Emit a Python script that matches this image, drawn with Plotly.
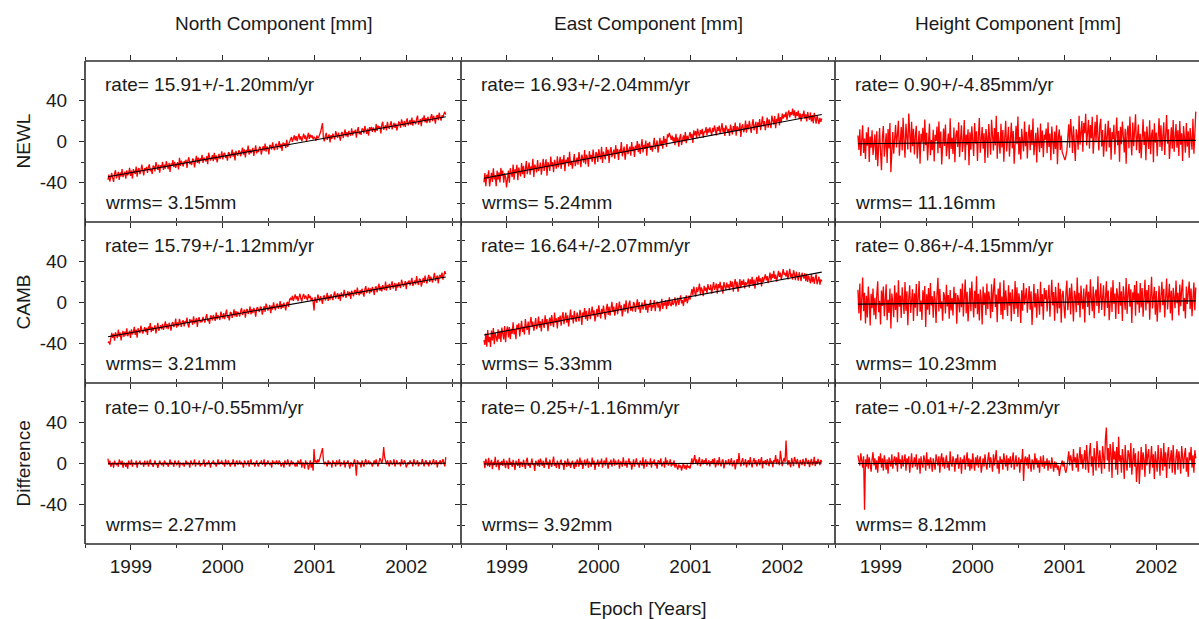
import numpy as np
import plotly.graph_objects as go

W, H = 1199, 619

stations = ["NEWL", "CAMB", "Difference"]
components = ["North Component [mm]", "East Component [mm]", "Height Component [mm]"]
year_ticks = [1999, 2000, 2001, 2002]
mm_ticks = [-40, 0, 40]

# span of the sampled solutions (decimal years)
epoch_first = 1998.75
epoch_last = 2002.43

rates = [[15.91, 16.93, 0.90], [15.79, 16.64, 0.86], [0.10, 0.25, -0.01]]
rate_sigmas = [[1.20, 2.04, 4.85], [1.12, 2.07, 4.15], [0.55, 1.16, 2.23]]
wrms = [[3.15, 5.24, 11.16], [3.21, 5.33, 10.23], [2.27, 3.92, 8.12]]
# epoch at which each fitted line passes through zero
fit_zero_epoch = [[2000.91, 2000.87, 2001.19],
                  [2000.86, 2000.65, 2000.60],
                  [2000.60, 2000.60, 2000.60]]

# residuals about the fitted line [mm], one value per solution
resid_newl_north = [
    -3, 2, -5, 0, 3, -2, -6, 2, 5, -3, 0, 3, -5, 2, -2, 5, -3, 0, 2, -5,
    3, -2, 0, 5, -3, 2, -6, 3, 0, -2, 5, -5, 2, 3, -3, 0, 6, -2, -5, 2,
    0, 3, -3, 2, 5, -2, 0, -5, 3, 2, -3, 6, 0, -2, 3, -5, 2, 0, 5, -3,
    2, -2, 5, 0, -3, 3, -6, 2, 0, 5, -2, 3, -3, 0, 2, -5, 6, -2, 3, 0,
    -3, 2, 0, 3, -5, 2, 5, -2, 0, -3, 3, 2, -6, 0, 5, -2, 3, -3, 2, 0,
    5, -3, 2, 0, -2, 3, -5, 6, 2, -2, 0, 3, -3, 5, -2, 2, -5, 0, 3, -2,
    0, 5, -3, 2, 3, -2, 0, -5, 3, 2, -3, 0, 5, -2, 2, -6, 3, 0, -2, 3,
    2, -3, 0, 5, -2, 3, -5, 2, 0, 6, -3, 2, -2, 0, 3, -5, 2, 5, -3, 0,
    -2, 3, 2, -5, 0, 3, -2, 5, -3, 2, 0, -6, 3, 2, -2, 5, 0, -3, 2, 3,
    -3, 0, 5, -2, 2, -5, 3, 0, 2, -3, 5, -2, 0, 3, 4, 7, 2, 5, 8, 3,
    7, 2, 5, 9, 3, 6, 1, 5, 8, 3, 6, 0, 5, 8, 2, 6, 3, 5, 1, 3,
    2, -1, 4, 1, 2, 4, 7, 11, 15, 0, -3, 2, 5, -2, 0, 3, -5, 2, -2, 3,
    0, -3, 5, 2, -2, 3, 0, -5, 2, 3, -3, 0, 5, -2, 2, -3, 3, 0, -2, 5,
    -2, 2, 0, 3, -5, 2, 5, -2, 0, -3, 3, 2, -2, 5, 0, -3, 2, -5, 3, 0,
    3, -2, 2, 0, -3, 5, -2, 3, 0, 2, -5, 3, 6, -2, 0, 2, -3, 5, 0, -2,
    2, 5, -3, 0, 3, -2, 2, -5, 0, 3, 2, -3, 5, 0, -2, 3, -3, 2, 5, -2,
    0, 3, -2, 5, -3, 2, 0, -2, 3, 6, -3, 0, 2, -5, 3, 0, 5, -2, 2, -3,
    3, 0, -3, 2, 5, -2, 3, 0, -5, 2, 3, -2, 5, 0, -3, 2, 0, 3, 5, 2,
]
resid_newl_east = [
    -4, 5, -8, 3, -1, 7, -9, 0, 4, -5, 8, -3, 1, -10, 5, -4, 3, -7, 7, -1,
    4, -8, 1, -3, -13, -5, 3, -9, 5, 0, -4, 8, -7, 3, -1, 7, -8, 4, 0, -5,
    8, -3, 5, -7, 1, 9, -4, 0, 7, -5, 3, -1, 10, -8, 4, 1, -4, 8, -3, 0,
    5, -7, 3, 8, -4, 0, 7, -9, 4, 1, -5, 9, -1, 3, -7, 5, 0, -4, 8, -3,
    1, 7, -5, 4, -1, 8, -8, 3, 0, 5, -4, 10, -3, 1, -7, 4, 7, -5, 0, 3,
    -4, 8, 1, -7, 5, 0, -3, 9, -5, 4, 1, -8, 7, -1, 3, -4, 8, 0, -7, 5,
    3, -5, 7, 1, -3, 9, -7, 4, 0, -4, 8, -1, 5, -8, 3, 7, -3, 0, 4, -5,
    8, -1, 4, -7, 3, 0, 10, -4, 1, 5, -8, 3, 7, -3, 0, 4, -5, 8, -1, 3,
    -7, 4, 0, 8, -3, 5, -5, 1, 9, -4, 3, -1, 7, -8, 4, 0, 5, -3, 1, -5,
    4, 8, -3, 0, 5, -7, 3, 7, -1, 4, -4, 8, 1, 5, -3, 9, 6, 10, 7, 3,
    7, 1, 5, -3, 8, 0, 4, -5, 3, 7, -4, 1, 5, -1, 8, -3, 4, 0, 3, 7,
    1, 5, -4, 8, 3, 7, 0, 9, 4, 1, 7, 3, 8, -1, 5, 4, 9, 1, 7, 3,
    8, 4, 0, 7, 3, 9, 5, -1, 7, 3, 8, 0, 4, 10, 1, 5, -3, 7, 4, 0,
    3, -4, 7, 1, -3, 5, 0, 8, -5, 4, 1, -1, 7, -7, 3, 5, -3, 0, 8, -4,
    4, -1, 7, 0, -5, 3, 8, -3, 1, 5, -7, 4, 0, 7, -4, 3, 9, -1, 4, -5,
    1, 7, -3, 5, 0, -4, 8, 3, -1, 7, -5, 4, 1, 9, -3, 5, 0, 8, 3, 7,
    4, 9, 1, 7, 10, 3, 8, 5, 11, 4, 9, 1, 7, 3, 8, 0, 5, -3, 4, 1,
    7, -1, 3, -4, 5, 0, -3, 4, -5, 1, -7, 3, -4, -8, 0, -5, -9, -3, -7, -4,
]
resid_newl_height = [
    8, -6, 14, -12, 3, 18, -9, 5, -15, 11, -2, 16, -18, 7, -4, 13, -11, 2, 9, -16,
    12, -22, 4, 15, -8, -26, 6, 17, -13, 1, 10, -19, 14, -5, 20, -28, 3, 11, -10, 6,
    18, -4, 9, 22, -12, 5, 16, -7, 25, 2, -14, 19, 8, -6, 29, 12, -9, 21, -3, 14,
    -11, 7, 17, -15, 4, 12, -20, 9, 1, 15, -8, 23, -2, 10, -17, 6, 19, -12, 3, -7,
    13, -18, 8, 2, 16, -10, 21, -5, 11, -21, 6, 14, -3, 18, -13, 0, 9, -16, 24, -6,
    5, -11, 15, -19, 7, 12, -4, 20, -14, 3, 17, -9, 1, 22, -17, 8, -2, 13, -22, 10,
    -7, 16, 4, -13, 19, -1, 11, -18, 6, 24, -10, 2, 15, -6, 9, -20, 13, 5, -15, 18,
    0, -12, 22, 7, -8, 14, -3, 26, -16, 10, 2, -11, 18, -5, 12, -19, 4, 21, -9, 7,
    15, -14, 3, 19, -6, 11, -21, 8, 16, -2, 25, -12, 5, -17, 13, 1, -9, 20, -4, 10,
    -16, 6, 17, -8, 12, -3, 23, -13, 4, 9, -20, 14, 0, -10, 18, -6, 11, -15, 7, 2,
    13, -11, 19, -5, 8, -18, 15, 3, -12, 10, -7, 16, -22, 5, 12, -8, 6, -10, -13, -16,
    -18, -14, -9, 4, 17, -6, 22, 9, -11, 15, 1, -19, 12, 6, -8, 25, -3, 14, 20, -10,
    18, 8, 27, -4, 13, 21, -7, 16, 3, 24, -12, 10, 19, -1, 26, 5, -9, 15, 22, -5,
    11, -15, 7, 17, -10, 4, 20, -6, 13, -18, 9, 2, 16, -13, 6, 23, -4, 10, -20, 14,
    -3, 19, 5, -11, 12, -22, 8, 15, -7, 24, 1, -14, 18, -5, 10, 26, -9, 3, 16, -12,
    7, -17, 13, 21, -4, 9, -19, 14, 2, -8, 20, -13, 6, 11, -21, 17, -2, 8, -15, 12,
    22, -6, 15, -10, 4, 18, -14, 9, 25, -3, 11, -18, 6, 13, -8, 20, -11, 3, 16, -7,
    10, -15, 19, -4, 7, -20, 14, 2, -12, 17, -6, 9, -17, 12, 4, -9, 21, -13, 6, 28,
]
resid_camb_north = [
    -6, -5, -8, 0, 3, -2, 2, -5, 3, 0, -3, 5, -2, 2, -6, 0, 3, -3, 2, -2,
    5, -3, 0, 2, -5, 3, -2, 0, 5, -3, 2, -6, 3, 0, -2, 5, 2, -3, 0, 3,
    -2, 2, -5, 3, 0, 6, -3, 2, -2, 0, 3, -5, 2, 5, -3, 0, 2, -2, 3, -3,
    0, 5, -2, 2, -3, 3, 0, -5, 2, 3, -2, 0, 6, -3, 2, -2, 5, 0, -3, 2,
    3, -3, 2, 0, 5, -2, -5, 3, 0, 2, -3, 5, -2, 0, 3, -6, 2, 3, -2, 0,
    -2, 3, 0, -3, 2, 5, -2, 0, -5, 3, 2, -2, 3, 0, -3, 5, -2, 2, 0, -3,
    5, 0, -2, 3, -3, 2, 6, -2, 0, -5, 3, 2, -3, 0, 5, -2, 3, -3, 2, 0,
    -3, 2, 5, -2, 0, 3, -5, 2, 3, -2, 0, 5, -3, 2, -2, 3, 0, -6, 2, 3,
    0, -2, 3, 2, -5, 0, 3, -3, 5, 2, -2, 0, 3, -5, 2, -2, 5, 0, -3, 2,
    3, -2, 0, 5, -3, 2, -2, 3, 0, -5, 2, 3, -2, 5, 6, 4, 8, 3, 6, 9,
    4, 7, 2, 6, 9, 4, 1, 6, 8, 3, 6, 4, 1, 7, 3, 5, 0, 3, -1, -10,
    3, 0, -3, 5, 2, -2, 3, 0, -5, 2, 3, -2, 0, 5, -3, 2, -2, 3, 0, -3,
    2, 5, -2, 0, 3, -3, 2, -5, 3, 0, -2, 5, 2, -3, 0, 3, -2, 2, -5, 3,
    0, -3, 3, 2, -2, 5, 0, -3, 2, -2, 3, 0, -5, 2, 5, -2, 0, 3, -3, 2,
    -2, 3, 0, -5, 2, 3, -3, 0, 5, -2, 2, -3, 3, 0, -2, 6, -3, 2, 0, 3,
    -3, 2, 5, -2, 0, 3, -5, 2, -2, 3, 0, -3, 5, 2, -2, 0, 3, -5, 2, 0,
    3, -2, 2, 5, -3, 0, 2, -2, 6, 0, -3, 3, 2, -5, 0, 3, -2, 5, 0, -3,
    2, 5, -2, 3, 0, -3, 2, 6, -2, 0, 3, -5, 2, 3, 0, 5, -2, 2, 6, 3,
]
resid_camb_east = [
    -5, -10, 1, -12, 4, -8, -3, -13, 3, -7, 5, -11, 0, -4, -9, 3, -7, 1, -10, 4,
    -3, -8, 5, -11, 0, 4, -7, 3, -9, 1, -4, 7, -5, 0, -10, 4, -1, 5, -8, 3,
    7, -4, 1, -7, 8, 0, -3, 5, -8, 3, 9, -1, 4, -5, 1, 7, -4, 0, 8, -3,
    3, -7, 5, 0, -4, 8, -1, 4, -8, 1, 5, -3, 7, 0, -5, 9, -1, 3, -7, 4,
    -1, 5, -5, 3, 8, -4, 0, 7, -3, 4, -7, 1, 9, -1, 3, -5, 7, 0, -4, 5,
    1, -4, 7, 3, -8, 4, 0, 8, -3, 5, -5, 1, 7, -4, 3, 8, -1, 4, -7, 0,
    5, -3, 8, 1, -5, 4, -1, 7, 0, -7, 3, 8, -3, 5, -4, 1, 9, -1, 4, -5,
    0, 7, -4, 3, 8, -1, 4, -7, 1, 5, -3, 8, 0, -5, 4, 7, -3, 1, -4, 5,
    3, -5, 1, 7, -3, 4, -7, 0, 3, -4, -1, 5, -5, 1, -8, 0, -3, 4, -7, -1,
    -4, 3, -8, -1, 1, -5, 0, -9, -3, 3, -7, -1, -4, 1, -8, 0, -5, 3, -4, -6,
    0, -5, -3, 2, -7, -4, 1, -6, -1, 3, -5, -2, -8, 0, -4, 2, -6, -2, 1, -3,
    2, 7, 1, 9, 4, -1, 8, 3, 6, 11, 0, 7, 4, -2, 8, 3, 6, 0, 9, 4,
    3, 8, -1, 6, 10, 2, 5, 8, -2, 7, 3, 9, 1, 5, -3, 8, 4, 0, 7, 2,
    5, -1, 8, 2, 7, -3, 4, 9, 0, 6, -4, 5, 8, -1, 6, 2, 7, -2, 4, 1,
    3, 7, -2, 6, 1, 8, -1, 5, -4, 4, 7, -1, 8, 2, 5, -3, 6, 1, 4, 8,
    2, 6, -1, 5, 9, 1, 7, 3, 10, 2, 6, -1, 5, 9, 3, 7, 0, 6, 10, 4,
    6, 2, 8, -1, 5, 9, 1, 4, -2, 7, 3, -3, 5, 1, -4, 4, 0, -5, 3, -1,
    -3, 2, -6, 1, -7, -1, -4, -9, 0, -8, -3, -10, -5, -1, -11, -6, -4, -12, -7, -9,
]
resid_camb_height = [
    14, -9, 20, -16, 5, 26, -7, 11, -19, 8, -13, 17, 2, -21, 10, -4, 15, -11, 6, -15,
    9, 22, -8, 3, -20, 13, -2, 17, -12, 7, 19, -16, 4, -9, 15, -24, 10, 1, -13, 18,
    -6, 11, -18, 23, -3, 8, -14, 16, 2, -10, 21, -7, 12, -21, 5, 18, -9, 0, 14, -17,
    10, -4, 19, -12, 6, 22, -8, 3, -16, 13, -1, 17, -23, 9, -6, 15, -11, 20, -2, 7,
    -14, 12, 4, -19, 9, 25, -8, 14, -5, 2, -17, 11, 7, -10, 18, -3, 8, -15, 13, -7,
    5, -12, 16, -1, 10, -20, 8, 3, -9, 14, -4, 19, -13, 6, 23, -10, 11, -18, 1, 15,
    -8, 21, 2, -14, 12, -5, 26, -11, 9, -17, 13, 4, -21, 16, -2, 10, -12, 19, -6, 11,
    3, -15, 18, -9, 12, 24, -4, 8, -19, 14, -1, 20, -12, 6, -16, 22, -7, 12, 0, -13,
    17, -3, 10, -18, 13, 4, -11, 21, -6, 15, -14, 9, 2, -20, 12, -8, 19, -2, 7, 14,
    -10, 6, 16, -7, 11, -22, 4, 18, -5, 9, -15, 13, 1, -12, 20, -4, 8, -17, 14, 3,
    12, -9, 5, 17, -14, 8, 22, -3, 10, -18, 15, 0, -11, 19, -6, 13, -20, 7, 11, -5,
    -16, 9, 21, -8, 4, 14, -12, 18, 2, -19, 11, 6, -10, 24, -3, 9, -15, 16, 1, -7,
    13, -20, 8, 17, -5, 10, -13, 22, 3, -9, 15, -16, 7, 12, -4, 25, -11, 5, 18, -8,
    2, 16, -14, 9, 20, -6, 11, -18, 4, 14, -10, 21, -2, 8, -17, 13, 6, -12, 19, -4,
    10, -19, 15, 3, -8, 23, -12, 7, 17, -5, 12, -21, 9, 1, 16, -14, 20, -3, 8, -11,
    18, -6, 13, -15, 5, 21, -9, 11, -2, 16, -18, 8, 24, -7, 3, 14, -13, 10, -20, 6,
    15, -11, 9, 19, -4, 12, -16, 6, 22, -8, 2, 17, -12, 10, -19, 13, 4, -7, 20, -2,
    8, -14, 16, -5, 11, 21, -10, 3, -17, 14, -3, 9, 19, -8, 12, -15, 6, 18, -9, 13,
]
resid_diff_north = [
    5, -1, 3, -3, 0, 1, -4, 3, 0, -1, 1, -3, 4, 0, -1, 3, -4, 1, 0, -3,
    1, -5, 3, 0, -1, 4, -3, 1, 0, -1, 3, -4, 1, 0, 3, -1, 0, 1, -3, 3,
    -1, 0, 3, -3, 1, 4, -1, 0, -3, 1, 3, -1, 0, -4, 1, 3, 0, -1, 1, -3,
    3, 0, -1, 1, -3, 0, 4, -1, 1, 0, -3, 3, 1, -1, 0, 3, -4, 1, 0, -1,
    1, -3, 0, 3, -1, 1, 0, -4, 3, 1, -1, 0, 4, -3, 1, 0, -1, 3, -3, 0,
    -1, 1, 4, -3, 0, 1, -1, 3, 0, -4, 1, 0, 3, -1, 1, -3, 0, 4, -1, 1,
    0, 3, -1, 1, -3, 4, 0, -1, 3, 0, -3, 1, -1, 4, 0, -3, 1, 3, -1, 0,
    3, -1, 1, 0, -4, 3, 1, -1, 0, 3, -3, 1, 4, -1, 0, 1, -3, 0, 3, -1,
    -3, 1, 0, 3, -1, 0, 4, -3, 1, -1, 3, 0, -1, 1, -4, 3, 0, 1, -1, 3,
    0, -1, 3, 1, -3, 0, 1, -4, 3, 0, -1, 4, 1, -3, 0, 3, -1, 1, 0, -3,
    1, -3, 3, 0, -1, 4, -4, 1, 0, -5, 3, -1, 1, -6, 0, 3, -4, 1, -7, 14,
    1, 3, 0, 4, 1, 5, 8, 11, 15, 3, -1, 1, 0, -3, 3, -1, 1, 0, -4, 3,
    0, 1, -3, 3, -1, 0, 4, -3, 1, 0, -1, 3, -4, 1, 0, 3, -1, -5, 1, 0,
    -3, 1, 4, -1, -12, 3, 0, -1, 1, -4, 3, 0, -3, 1, 4, -1, 0, 3, -1, 1,
    0, -3, 1, 3, -1, 4, 0, -3, 1, 5, 3, 0, 4, 16, 6, 1, -1, 3, 0, -3,
    3, 1, -1, 0, 4, -3, 1, 3, -1, 0, 1, -3, 4, 0, -1, 3, 1, -4, 0, 1,
    -1, 3, 0, 1, -3, 4, 1, -1, 0, 3, -3, 1, 0, -1, 4, 0, -3, 1, 3, -1,
    1, -3, 3, 0, -1, 1, 4, -1, 0, 3, -4, 1, 0, 3, -1, 1, 4, 0, -3, 6,
]
resid_diff_east = [
    3, -4, 5, 0, -2, 6, -3, 1, 4, -5, 2, -1, 7, -3, 0, 4, -6, 2, -1, 3,
    -2, 5, 0, -4, 3, 1, -5, 6, -1, 2, -3, 4, 0, -6, 3, 1, -2, 5, -4, 2,
    1, -3, 4, 0, -5, 3, 6, -2, 1, -4, 2, 5, -1, 0, -7, 3, 1, -2, 4, -3,
    5, 0, -2, 3, -4, 1, 6, -1, 2, -5, 4, 0, -3, 2, 7, -2, 1, -4, 3, 0,
    -5, 2, 4, -1, 0, -6, 3, 1, -3, 5, -2, 2, -4, 0, 3, -1, -5, 2, -3, 4,
    2, -3, 6, -1, 3, -5, 0, 4, -2, 1, 5, -4, 2, 0, -3, 6, -1, 3, -6, 1,
    -1, 4, -3, 2, 0, 5, -4, 1, 3, -2, 6, 0, -5, 2, -1, 4, -3, 1, 5, -2,
    3, -1, 0, 4, -5, 2, 1, -3, 6, 0, -2, 3, -4, 1, 5, -1, 2, -6, 0, 4,
    -3, 2, 5, -1, 1, -4, 3, 0, -2, 6, -5, 1, 4, -3, 2, 0, -1, 5, -4, 2,
    0, 4, -2, 1, -5, 3, 2, -1, 5, -3, 0, 2, -4, 6, -1, 3, -2, 0, 4, -3,
    1, -2, 3, -4, 0, -3, -6, -1, -4, -2, -7, -3, 0, -5, -2, -6, -1, -4, -3, -5,
    2, 5, -1, 3, 8, 0, 4, -2, 2, 6, -3, 1, 4, -1, 3, 0, 5, -2, 1, 3,
    -3, 2, 0, 4, -1, 5, -4, 1, 3, -2, 6, 0, -3, 2, 4, -5, 1, 3, -1, 0,
    4, -2, 1, 5, -3, 0, 3, -6, 2, 4, -1, 10, 1, -3, 2, 5, -2, 0, 4, -4,
    1, 3, -2, 6, 0, -4, 2, 5, -1, 3, -3, 0, 4, -2, 1, 6, -5, 2, 0, 3,
    -2, 4, 1, -3, 5, 0, 2, -4, 3, 1, 8, -1, 4, 0, -2, 12, 3, -3, 2, 5,
    1, 22, 4, -2, 3, 0, -4, 5, 1, -3, 6, 2, -1, 4, 0, -5, 3, 1, -2, 4,
    0, -3, 5, 2, -1, 3, -4, 1, 4, -2, 0, 6, -3, 2, -1, 4, 0, -2, 3, 1,
]
resid_diff_height = [
    8, 3, -2, 10, 5, -4, 7, -45, 4, -3, 9, -5, 6, 1, -8, 4, 11, -2, 5, -6,
    3, -9, 7, 0, 10, -4, 5, -7, 8, 2, -6, 4, -10, 6, 1, -3, 9, -5, 3, 7,
    -2, 6, -8, 11, 0, 4, -5, 8, -3, 2, 9, -7, 5, -1, 7, -9, 3, 10, -4, 1,
    6, -3, 9, -6, 2, 5, -10, 7, 0, -4, 8, 3, -7, 11, -2, 4, -5, 6, 1, -8,
    5, 0, -6, 9, 3, -2, 7, -9, 4, 10, -3, 6, -5, 1, 8, -4, 2, -7, 12, 0,
    -3, 7, 2, -8, 5, -1, 9, -5, 3, 6, -10, 4, 0, 8, -6, 2, 11, -3, 5, -7,
    4, -5, 10, 1, -7, 6, -2, 8, -4, 3, 7, -9, 2, 5, -3, 9, 0, -6, 4, 11,
    -4, 6, 1, -8, 9, -2, 5, 13, -5, 3, -10, 7, 0, 4, -6, 10, 2, -3, 8, -7,
    5, -1, 7, -4, 3, 11, -6, 2, 8, -3, 0, 6, -9, 4, 1, 14, -17, 3, 7, -2,
    6, -5, 9, 0, -8, 4, 2, -6, 10, -1, 5, -4, 3, -9, 7, 1, -3, 8, -5, 2,
    -2, 5, -7, 3, 0, -5, 6, -3, -8, 2, -4, 1, -6, -2, -12, -5, 0, 3, -3, 2,
    -6, -9, -4, 5, 12, -2, 8, 3, -7, 14, 1, 6, -4, 10, -8, 5, 16, -1, 9, -5,
    4, 13, -6, 18, 2, -9, 11, 20, -3, 7, -12, 15, 5, -7, 22, 9, -4, 13, 0, -10,
    17, 6, -5, 24, 35, 3, 15, -8, 19, 10, -14, 21, 4, 12, -6, 16, -11, 26, 2, 8,
    -9, 14, 5, -15, 18, 1, -7, 13, 9, -4, 20, -11, 6, 15, -3, 10, -18, 4, 12, -20,
    7, 16, -6, 11, 3, -13, 19, -2, 8, 14, -10, 5, 17, -4, 9, -15, 12, 2, -8, 18,
    1, -12, 15, 6, -7, 20, -3, 11, -14, 8, 16, -5, 3, 13, -9, 18, 0, -11, 7, 14,
    -6, 12, 4, -10, 17, 2, -5, 9, 15, -8, 6, -13, 11, 3, 16, -4, 8, -9, 13, 5,
]

residuals = [
    [resid_newl_north, resid_newl_east, resid_newl_height],
    [resid_camb_north, resid_camb_east, resid_camb_height],
    [resid_diff_north, resid_diff_east, resid_diff_height],
]

# ---- page geometry (pixels) ----
col_px = [(85, 461), (461, 835), (835, 1199)]
row_px = [(61, 222), (222, 383), (383, 544)]
px_per_year = 91.8
year_start = 1998.5
mm_half_range = 78.5

FONT = "Liberation Sans, Arial, Helvetica, sans-serif"
INK = "#1a1a1a"
FRAME = "#2b2b2b"
CLEAR = "rgba(0,0,0,0)"


def px_x(x):
    return x / W


def px_y(y):
    return 1 - y / H


fig = go.Figure()
layout = dict(
    width=W, height=H, autosize=False,
    margin=dict(l=0, r=0, t=0, b=0),
    paper_bgcolor="white", plot_bgcolor="white",
    showlegend=False,
    font=dict(family=FONT, size=19, color=INK),
)
annotations = []

for r in range(3):
    for c in range(3):
        k = r * 3 + c + 1
        xa = "x" if k == 1 else f"x{k}"
        ya = "y" if k == 1 else f"y{k}"
        xkey = "xaxis" if k == 1 else f"xaxis{k}"
        ykey = "yaxis" if k == 1 else f"yaxis{k}"

        res = np.array(residuals[r][c], dtype=float)
        t = np.linspace(epoch_first, epoch_last, len(res))
        fit = rates[r][c] * (t - fit_zero_epoch[r][c])
        obs = fit + res

        fig.add_trace(go.Scatter(
            x=t, y=obs, mode="lines", xaxis=xa, yaxis=ya,
            line=dict(color="#ff0000", width=1.3), hoverinfo="skip"))
        fig.add_trace(go.Scatter(
            x=[t[0], t[-1]], y=[fit[0], fit[-1]], mode="lines", xaxis=xa, yaxis=ya,
            line=dict(color="black", width=1.1), hoverinfo="skip"))

        left, right = col_px[c]
        top, bottom = row_px[r]
        x_hi = year_start + (right - left) / px_per_year

        layout[xkey] = dict(
            domain=[px_x(left), px_x(right)],
            anchor=ya,
            range=[year_start, x_hi],
            tickmode="array", tickvals=year_ticks,
            ticktext=[str(v) for v in year_ticks],
            showticklabels=(r == 2),
            ticks="outside", ticklen=5, tickwidth=1.2, tickcolor=FRAME,
            minor=dict(dtick=0.5, tick0=1999, ticks="outside", ticklen=3,
                       tickwidth=1, tickcolor=FRAME, showgrid=False),
            showline=True, linecolor=CLEAR, linewidth=1,
            mirror="allticks",
            showgrid=False, zeroline=False,
            tickfont=dict(family=FONT, size=19, color=INK),
        )
        layout[ykey] = dict(
            domain=[px_y(bottom), px_y(top)],
            anchor=xa,
            range=[-mm_half_range, mm_half_range],
            tickmode="array", tickvals=mm_ticks,
            ticktext=[str(v) for v in mm_ticks],
            showticklabels=(c == 0),
            ticks="outside", ticklen=5, tickwidth=1.2, tickcolor=FRAME,
            minor=dict(dtick=20, tick0=0, ticks="outside", ticklen=3,
                       tickwidth=1, tickcolor=FRAME, showgrid=False),
            showline=True, linecolor=CLEAR, linewidth=1,
            mirror=("allticks" if c < 2 else False),
            showgrid=False, zeroline=False,
            ticklabelstandoff=8,
            tickfont=dict(family=FONT, size=19, color=INK),
        )

        text_x = px_x(left + 18)
        annotations.append(dict(
            xref="paper", yref="paper", x=text_x, y=px_y(top + 24),
            xanchor="left", yanchor="middle", showarrow=False,
            text=f"rate= {rates[r][c]:.2f}+/-{rate_sigmas[r][c]:.2f}mm/yr",
            font=dict(family=FONT, size=19, color=INK)))
        annotations.append(dict(
            xref="paper", yref="paper", x=text_x, y=px_y(bottom - 20),
            xanchor="left", yanchor="middle", showarrow=False,
            text=f"wrms= {wrms[r][c]:.2f}mm",
            font=dict(family=FONT, size=19, color=INK)))

# panel frames: shared edges drawn once
shapes = []
frame_line = dict(color=FRAME, width=1.6)
for y in [61, 222, 383, 544]:
    shapes.append(dict(type="line", xref="paper", yref="paper", layer="above",
                       x0=px_x(85), x1=1.0, y0=px_y(y), y1=px_y(y), line=frame_line))
for x in [85, 461, 835]:
    shapes.append(dict(type="line", xref="paper", yref="paper", layer="above",
                       x0=px_x(x), x1=px_x(x), y0=px_y(61), y1=px_y(544), line=frame_line))

# column headings
heading_x = [273, 648, 1018]
for c, name in enumerate(components):
    annotations.append(dict(
        xref="paper", yref="paper", x=px_x(heading_x[c]), y=px_y(23),
        xanchor="center", yanchor="middle", showarrow=False, text=name,
        font=dict(family=FONT, size=19, color=INK)))

# row labels
for r, name in enumerate(stations):
    top, bottom = row_px[r]
    annotations.append(dict(
        xref="paper", yref="paper", x=px_x(23), y=px_y((top + bottom) / 2),
        xanchor="center", yanchor="middle", showarrow=False, text=name,
        textangle=-90, font=dict(family=FONT, size=19, color=INK)))

annotations.append(dict(
    xref="paper", yref="paper", x=px_x(647.5), y=px_y(608),
    xanchor="center", yanchor="middle", showarrow=False, text="Epoch [Years]",
    font=dict(family=FONT, size=19, color=INK)))

layout["annotations"] = annotations
layout["shapes"] = shapes
fig.update_layout(**layout)
fig.write_html("out.html")
